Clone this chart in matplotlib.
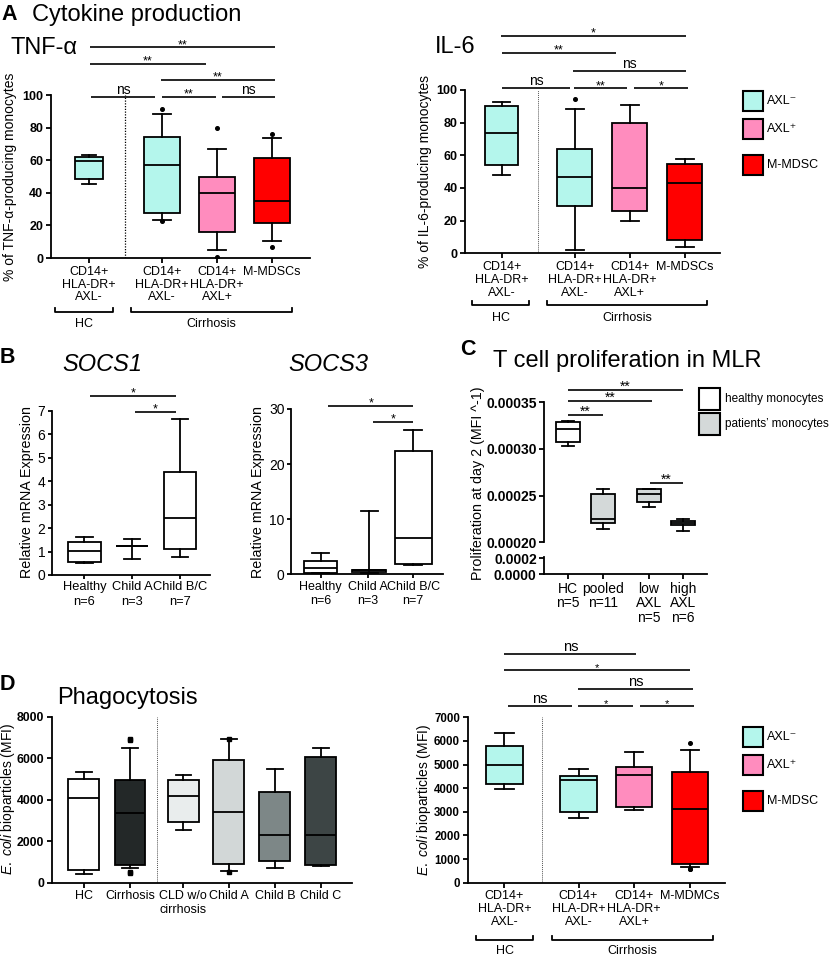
import matplotlib
matplotlib.use('Agg')
import matplotlib.pyplot as plt
from matplotlib.patches import Rectangle
from matplotlib.lines import Line2D

plt.rcParams['font.family'] = ['Liberation Sans', 'DejaVu Sans']
plt.rcParams['mathtext.fontset'] = 'custom'
plt.rcParams['mathtext.rm'] = 'Liberation Sans'
plt.rcParams['mathtext.it'] = 'Liberation Sans:italic'

CYAN = '#B4F6EC'
PINK = '#FF8CBE'
RED = '#FF0000'
GREY = '#D4D9D9'

# ---- A: cytokine production ----
a_labels = ['CD14+\nHLA-DR+\nAXL-', 'CD14+\nHLA-DR+\nAXL-', 'CD14+\nHLA-DR+\nAXL+', 'M-MDSCs']
tnf_whislo = [45.7, 23.3, 4.7, 10.2]
tnf_q1 = [48.6, 27.6, 15.7, 21.2]
tnf_med = [59.6, 56.9, 40.0, 34.9]
tnf_q3 = [61.8, 74.3, 49.6, 61.2]
tnf_whishi = [63.3, 88.2, 67.0, 73.7]
tnf_fliers = [[], [91.4, 22.9], [79.6, 0.5], [76.1, 6.9]]
tnf_sig = [(0.01, 3.39, 129.2, '**'), (0.02, 2.12, 119.2, '**'), (1.30, 3.38, 109.2, '**'),
           (0.04, 1.19, 98.8, 'ns'), (1.32, 2.30, 98.8, '**'), (2.41, 3.39, 98.8, 'ns')]

il6_whislo = [48.0, 1.8, 19.8, 3.7]
il6_q1 = [54.1, 29.2, 25.9, 8.0]
il6_med = [73.5, 46.9, 39.8, 43.1]
il6_q3 = [90.2, 64.1, 79.8, 54.5]
il6_whishi = [92.9, 88.6, 90.8, 57.8]
il6_fliers = [[], [94.3], [], []]
il6_sig = [(-0.02, 3.35, 133.1, '*'), (0.01, 2.08, 122.9, '**'), (1.29, 3.35, 111.8, 'ns'),
           (0.01, 1.24, 101.0, 'ns'), (1.32, 2.28, 101.0, '**'), (2.41, 3.38, 101.0, '*')]

# ---- B: SOCS expression ----
b_labels = ['Healthy\nn=6', 'Child A\nn=3', 'Child B/C\nn=7']
s1_whislo = [0.50, 0.70, 0.78]
s1_q1 = [0.55, 1.22, 1.12]
s1_med = [1.02, 1.22, 2.44]
s1_q3 = [1.41, 1.22, 4.40]
s1_whishi = [1.62, 1.55, 6.65]
s1_sig = [(0.12, 1.91, 7.63, '*'), (1.06, 1.91, 6.96, '*')]

s3_whislo = [0.18, 0.24, 1.70]
s3_q1 = [0.30, 0.45, 1.88]
s3_med = [1.09, 0.79, 6.65]
s3_q3 = [2.48, 0.85, 22.4]
s3_whishi = [3.93, 11.4, 26.2]
s3_sig = [(0.16, 2.0, 30.6, '*'), (1.14, 2.0, 27.6, '*')]

# ---- C: T cell proliferation ----
c_labels = ['HC\nn=5', 'pooled\nn=11', 'low\nAXL\nn=5', 'high\nAXL\nn=6']
c_whislo = [0.0003036, 0.0002143, 0.0002382, 0.0002125]
c_q1 = [0.0003071, 0.0002211, 0.0002432, 0.0002186]
c_med = [0.0003218, 0.0002246, 0.0002520, 0.0002211]
c_q3 = [0.0003284, 0.0002516, 0.0002568, 0.0002232]
c_whishi = [0.0003298, 0.0002573, 0.0002573, 0.0002246]
c_sig = [(0, 3.3, 0.0003632, '**'), (0, 2.42, 0.0003511, '**'), (0, 1.02, 0.0003361, '**'),
         (2.35, 3.3, 0.0002636, '**')]

# ---- D: phagocytosis ----
dl_labels = ['HC', 'Cirrhosis', 'CLD w/o\ncirrhosis', 'Child A', 'Child B', 'Child C']
dl_whislo = [401, 690, 2521, 578, 707, 803]
dl_q1 = [626, 867, 2907, 883, 1044, 867]
dl_med = [4063, 3340, 4176, 3405, 2280, 2297]
dl_q3 = [4995, 4930, 4946, 5894, 4352, 6039]
dl_whishi = [5332, 6472, 5187, 6906, 5493, 6504]
dl_fliers = [[], [6890, 6930, 530, 450], [], [6920, 498], [], []]
dl_colors = ['#FFFFFF', '#232828', '#E9EDED', '#D2D7D7', '#7D8787', '#3D4545']

dr_labels = ['CD14+\nHLA-DR+\nAXL-', 'CD14+\nHLA-DR+\nAXL-', 'CD14+\nHLA-DR+\nAXL+', 'M-MDMCs']
dr_whislo = [3980, 2738, 3062, 649]
dr_q1 = [4191, 2992, 3189, 790]
dr_med = [4982, 4347, 4558, 3133]
dr_q3 = [5786, 4516, 4883, 4699]
dr_whishi = [6322, 4798, 5546, 5631]
dr_fliers = [[], [], [], [5899, 565, 593]]
dr_sig = [(0.0, 2.37, 9670, 'ns'), (0.0, 3.34, 8990, '*'), (1.32, 3.38, 8210, 'ns'),
          (0.07, 1.21, 7470, 'ns'), (1.32, 2.31, 7470, '*'), (2.43, 3.40, 7470, '*')]

W, H = 830, 957
fig = plt.figure(figsize=(W / 100, H / 100), dpi=100)


def fx(x):
    return x / W


def fy(y):
    return 1 - y / H


def px_ax(l, t, r, b):
    return fig.add_axes([l / W, 1 - b / H, (r - l) / W, (b - t) / H])


def style(ax, yticks, ylabels, bold, ysize, length=3.5, pad=2):
    for s in ['top', 'right']:
        ax.spines[s].set_visible(False)
    for s in ['left', 'bottom']:
        ax.spines[s].set_linewidth(1.3)
    ax.tick_params(direction='out', length=length, width=1.3, pad=pad)
    ax.set_yticks(yticks)
    ax.set_yticklabels(ylabels, fontsize=ysize, fontweight='bold' if bold else 'normal')


def boxes(ax, pos, widths, whislo, q1, med, q3, whishi, fliers, colors, marker='o'):
    stats = []
    for i in range(len(pos)):
        stats.append(dict(whislo=whislo[i], q1=q1[i], med=med[i], q3=q3[i],
                          whishi=whishi[i], fliers=fliers[i] if fliers else []))
    bp = ax.bxp(stats, positions=pos, widths=widths, patch_artist=True, showfliers=True,
                manage_ticks=False,
                boxprops=dict(edgecolor='black', linewidth=1.3),
                medianprops=dict(color='black', linewidth=1.3),
                whiskerprops=dict(color='black', linewidth=1.3),
                capprops=dict(color='black', linewidth=1.3),
                flierprops=dict(marker=marker, markersize=2.6, markerfacecolor='black',
                                markeredgecolor='black'))
    for patch, c in zip(bp['boxes'], colors):
        patch.set_facecolor(c)


def sig(ax, bars, star=9, ns=10):
    for x1, x2, y, lab in bars:
        ax.plot([x1, x2], [y, y], color='black', lw=1.2, clip_on=False, solid_capstyle='butt')
        if lab == 'ns':
            ax.annotate(lab, ((x1 + x2) / 2, y), xytext=(0, 2.3), textcoords='offset points',
                        ha='center', va='baseline', fontsize=ns, annotation_clip=False)
        else:
            ax.annotate(lab, ((x1 + x2) / 2, y), xytext=(0, -0.5), textcoords='offset points',
                        ha='center', va='baseline', fontsize=star, annotation_clip=False)


def bracket(x1, x2, y, label, ty):
    fig.add_artist(Line2D([fx(x1), fx(x1), fx(x2), fx(x2)], [fy(y - 4.5), fy(y), fy(y), fy(y - 4.5)],
                          transform=fig.transFigure, color='black', lw=1.3))
    fig.text(fx((x1 + x2) / 2), fy(ty), label, ha='center', va='center', fontsize=9)


def legend_box(x, y, w, h, color, label, size):
    fig.add_artist(Rectangle((fx(x), fy(y + h)), w / W, h / H, transform=fig.transFigure,
                             facecolor=color, edgecolor='black', lw=1.5))
    fig.text(fx(x + w + 4.5), fy(y + h / 2), label, ha='left', va='center', fontsize=size)


def ylab(ax, text, x, y, size):
    ax.set_ylabel(text, fontsize=size, va='center')
    ax.yaxis.set_label_coords(fx(x), fy(y), transform=fig.transFigure)


a_pos = [0, 1.33, 2.33, 3.33]
a_colors = [CYAN, CYAN, PINK, RED]

# TNF
ax = px_ax(50.7, 95, 310, 258)
boxes(ax, a_pos, [0.5, 0.65, 0.65, 0.65], tnf_whislo, tnf_q1, tnf_med, tnf_q3, tnf_whishi,
      tnf_fliers, a_colors)
ax.plot([0.65, 0.65], [0, 100], color='black', lw=0.9, ls=(0, (1, 1.2)))
ax.set_xlim(-0.7, 4.02)
ax.set_ylim(0, 100)
style(ax, [0, 20, 40, 60, 80, 100], ['0', '20', '40', '60', '80', '100'], True, 9)
ax.set_xticks(a_pos)
ax.set_xticklabels(a_labels, fontsize=9, linespacing=1.1)
sig(ax, tnf_sig)
ylab(ax, '% of TNF-α-producing monocytes', 10, 176.5, 10)

# IL-6
ax = px_ax(465.3, 90, 720, 253.3)
boxes(ax, a_pos, [0.6, 0.64, 0.64, 0.64], il6_whislo, il6_q1, il6_med, il6_q3, il6_whishi,
      il6_fliers, a_colors)
ax.plot([0.67, 0.67], [0, 100], color='#555555', lw=0.7, ls=(0, (1, 1)))
ax.set_xlim(-0.66, 3.97)
ax.set_ylim(0, 100)
style(ax, [0, 20, 40, 60, 80, 100], ['0', '20', '40', '60', '80', '100'], True, 9)
ax.set_xticks(a_pos)
ax.set_xticklabels(a_labels, fontsize=9, linespacing=1.1)
sig(ax, il6_sig)
ylab(ax, '% of IL-6-producing monocytes', 425, 171.7, 10)

# SOCS1
ax = px_ax(51.5, 410.7, 210, 575)
boxes(ax, [0, 1, 2], 0.68, s1_whislo, s1_q1, s1_med, s1_q3, s1_whishi, None, ['white'] * 3)
ax.set_xlim(-0.69, 2.63)
ax.set_ylim(0, 7)
style(ax, range(8), [str(i) for i in range(8)], False, 10, length=3, pad=1.5)
ax.set_xticks([0, 1, 2])
ax.set_xticklabels(b_labels, fontsize=9.3, linespacing=1.3)
sig(ax, s1_sig)
ylab(ax, 'Relative mRNA Expression', 27, 492.5, 10.3)

# SOCS3
ax = px_ax(290.7, 409, 443.3, 574.3)
boxes(ax, [0, 1.05, 2], [0.72, 0.74, 0.8], s3_whislo, s3_q1, s3_med, s3_q3, s3_whishi, None,
      ['white'] * 3)
ax.set_xlim(-0.65, 2.65)
ax.set_ylim(0, 30)
style(ax, [0, 10, 20, 30], ['0', '10', '20', '30'], False, 10, length=3, pad=1.5)
ax.set_xticks([0, 1.02, 2])
ax.set_xticklabels(b_labels, fontsize=9, linespacing=1.3)
sig(ax, s3_sig)
ylab(ax, 'Relative mRNA Expression', 258.3, 491.5, 10.3)

# C: broken axis
c_pos = [0, 1, 2.31, 3.3]
axt = px_ax(544.3, 402.3, 706.7, 542.3)
boxes(axt, c_pos, 0.68, c_whislo, c_q1, c_med, c_q3, c_whishi, None, ['white', GREY, GREY, GREY])
axt.set_xlim(-0.67, 3.97)
axt.set_ylim(0.0002, 0.00035)
style(axt, [0.0002, 0.00025, 0.0003, 0.00035], ['0.00020', '0.00025', '0.00030', '0.00035'], True, 10)
axt.spines['bottom'].set_visible(False)
axt.set_xticks([])
sig(axt, c_sig, star=10)

axb = px_ax(544.3, 556.7, 706.7, 574.3)
axb.set_xlim(-0.67, 3.97)
axb.set_ylim(0, 0.00022)
style(axb, [0, 0.0002], ['0.0000', '0.0002'], True, 10)
axb.set_xticks(c_pos)
axb.set_xticklabels(c_labels, fontsize=10, linespacing=1.05)
fig.text(fx(478.3), fy(483.3), 'Proliferation at day 2 (MFI ^-1)', rotation=90,
         ha='center', va='center', fontsize=10.3)

# D left
dl_pos = [0, 1, 2.16, 3.15, 4.15, 5.15]
ax = px_ax(51.7, 716.7, 351.7, 882.7)
boxes(ax, dl_pos, 0.67, dl_whislo, dl_q1, dl_med, dl_q3, dl_whishi, dl_fliers, dl_colors, marker='s')
ax.plot([1.58, 1.58], [0, 8000], color='#555555', lw=0.7, ls=(0, (1, 1)))
ax.set_xlim(-0.70, 5.82)
ax.set_ylim(0, 8000)
style(ax, [0, 2000, 4000, 6000, 8000], ['0', '2000', '4000', '6000', '8000'], True, 8.8)
ax.set_xticks(dl_pos)
ax.set_xticklabels(dl_labels, fontsize=9, linespacing=1.2)
ylab(ax, r'$\it{E.\ coli}$ bioparticles (MFI)', 8, 799, 10)

# D right
ax = px_ax(467.7, 717.3, 725, 882.7)
boxes(ax, a_pos, 0.65, dr_whislo, dr_q1, dr_med, dr_q3, dr_whishi, dr_fliers, a_colors)
ax.plot([0.67, 0.67], [0, 7000], color='#555555', lw=0.7, ls=(0, (1, 1)))
ax.set_xlim(-0.66, 3.96)
ax.set_ylim(0, 7000)
style(ax, range(0, 7001, 1000), [str(v) for v in range(0, 7001, 1000)], True, 8.3)
ax.set_xticks(a_pos)
ax.set_xticklabels(dr_labels, fontsize=9, linespacing=1.1)
sig(ax, dr_sig, star=8, ns=10.5)
ylab(ax, r'$\it{E.\ coli}$ bioparticles (MFI)', 424, 800, 10)

# brackets under the groups
bracket(55, 113, 312, 'HC', 324)
bracket(130.7, 292.3, 312, 'Cirrhosis', 324)
bracket(472, 529, 305, 'HC', 318)
bracket(547, 707, 305, 'Cirrhosis', 318)
bracket(475.7, 533.3, 940, 'HC', 951)
bracket(551.7, 713.3, 940, 'Cirrhosis', 951)

# legends
legend_box(742.7, 91, 20, 20, CYAN, 'AXL⁻', 9)
legend_box(742.7, 119, 20, 20, PINK, 'AXL⁺', 9)
legend_box(742.7, 155, 20, 20, RED, 'M-MDSC', 9)
legend_box(742.7, 727.3, 20, 20, CYAN, 'AXL⁻', 9)
legend_box(742.7, 755.3, 20, 20, PINK, 'AXL⁺', 9)
legend_box(742.7, 790.7, 20, 20, RED, 'M-MDSC', 9)
legend_box(699.3, 388.3, 20.7, 21.7, 'white', 'healthy monocytes', 8.5)
legend_box(699.3, 413.3, 20.7, 21.7, GREY, 'patients’ monocytes', 8.5)

# panel titles
fig.text(fx(1.5), fy(19.5), 'A', fontsize=15.5, fontweight='bold', va='baseline')
fig.text(fx(32), fy(20.5), 'Cytokine production', fontsize=17, va='baseline')
fig.text(fx(10), fy(54), 'TNF-α', fontsize=17, va='baseline')
fig.text(fx(435), fy(53.3), 'IL-6', fontsize=17, va='baseline')
fig.text(fx(0), fy(363.3), 'B', fontsize=15.5, fontweight='bold', va='baseline')
fig.text(fx(62), fy(370.7), 'SOCS1', fontsize=17, style='italic', va='baseline')
fig.text(fx(288), fy(370.7), 'SOCS3', fontsize=17, style='italic', va='baseline')
fig.text(fx(460), fy(355), 'C', fontsize=15.5, fontweight='bold', va='baseline')
fig.text(fx(493), fy(367.3), 'T cell proliferation in MLR', fontsize=17, va='baseline')
fig.text(fx(0), fy(690), 'D', fontsize=15.5, fontweight='bold', va='baseline')
fig.text(fx(57), fy(704), 'Phagocytosis', fontsize=17, va='baseline')

fig.savefig('out.png', dpi=100)
